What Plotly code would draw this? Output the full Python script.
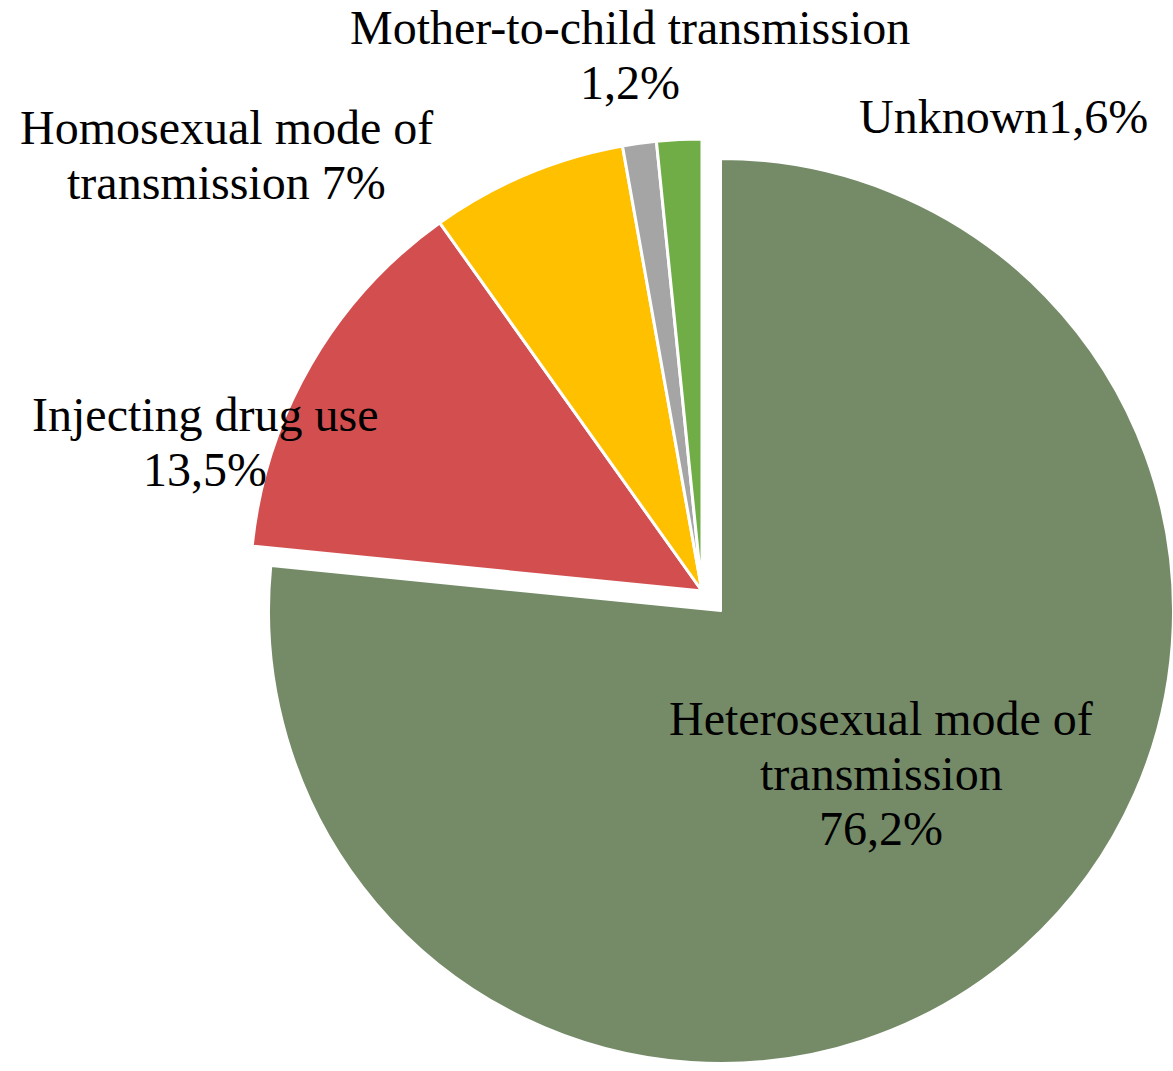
import plotly.graph_objects as go

# ---- data ----
categories = ["Heterosexual mode of transmission", "Injecting drug use",
              "Homosexual mode of transmission", "Mother-to-child transmission", "Unknown"]
values = [76.2, 13.5, 7.0, 1.2, 1.6]
value_labels = ["76,2%", "13,5%", "7%", "1,2%", "1,6%"]
colors = ["#758B68", "#D34F4F", "#FFC000", "#A5A5A5", "#70AD47"]

label_lines = [
    ["Heterosexual mode of", "transmission", value_labels[0]],
    ["Injecting drug use", value_labels[1]],
    ["Homosexual mode of", "transmission " + value_labels[2]],
    ["Mother-to-child transmission", value_labels[3]],
    ["Unknown" + value_labels[4]],
]

# ---- layout helpers (pixel positions are styling, in screen coords) ----
W, H = 1173, 1071
FONT = "Liberation Serif"
FS = 48
LINE_STEP = 55
label_pos = [(881, 735), (205, 431), (226, 144), (630, 44), (1003, 133)]  # center x, first baseline


def domain(cx, cy, r):
    return dict(x=[max(0, (cx - r) / W), min(1, (cx + r) / W)],
                y=[max(0, 1 - (cy + r) / H), min(1, 1 - (cy - r) / H)])


R = 452
clear = "rgba(0,0,0,0)"

fig = go.Figure()
# small slices (not pulled)
fig.add_trace(go.Pie(
    labels=categories, values=values, sort=False, direction="clockwise", rotation=0,
    marker=dict(colors=[clear] + colors[1:],
                line=dict(color="white", width=[0, 3, 3, 3, 3])),
    textinfo="none", hoverinfo="label+percent", showlegend=False,
    domain=domain(702, 591, R),
))
# exploded main slice
fig.add_trace(go.Pie(
    labels=categories, values=values, sort=False, direction="clockwise", rotation=0,
    marker=dict(colors=[colors[0]] + [clear] * 4,
                line=dict(color="white", width=[2, 0, 0, 0, 0])),
    textinfo="none", hoverinfo="label+percent", showlegend=False,
    domain=domain(721, 611, R),
))

annotations = []
for lines, (cx, by) in zip(label_lines, label_pos):
    for i, line in enumerate(lines):
        base = by + i * LINE_STEP
        ymid = base - 0.3375 * FS
        annotations.append(dict(
            text=line, x=cx / W, y=1 - ymid / H, xref="paper", yref="paper",
            xanchor="center", yanchor="middle", showarrow=False,
            font=dict(family=FONT, size=FS, color="black"),
        ))

fig.update_layout(
    width=W, height=H,
    margin=dict(l=0, r=0, t=0, b=0),
    paper_bgcolor="white", plot_bgcolor="white",
    annotations=annotations,
)

fig.write_html(
    "out.html",
    config={"displayModeBar": False},
    post_script="document.body.style.margin='0px';"
                "document.documentElement.style.overflow='hidden';",
)
